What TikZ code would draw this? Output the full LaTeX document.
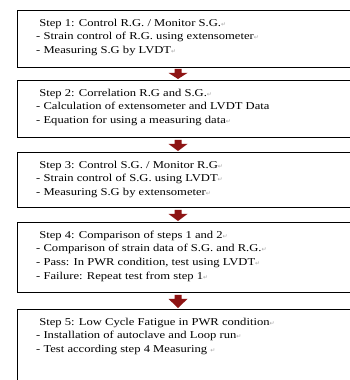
\documentclass[tikz,border=0pt]{standalone}
\usepackage{fontspec}
\setmainfont{Liberation Serif}[FakeStretch=1.2]
\newfontfamily\symfont{DejaVu Sans}
\usetikzlibrary{calc}
\definecolor{arrowred}{HTML}{8E1414}
\newcommand\pmk{{\symfont\color{black!35}\fontsize{6}{6}\selectfont ↵}}
\tikzset{
  stepbox/.style={draw=black, line width=0.9pt, minimum width=345pt, anchor=north west, inner sep=0pt},
  steptext/.style={anchor=north west, inner sep=0pt, align=left, font=\fontsize{10.5}{13.7}\selectfont},
  blockarrow/.style={fill=arrowred, draw=none},
}
\newcommand\blockarr[2]{% #1 top coordinate name, #2 bottom coordinate name
  \fill[blockarrow] ($(#1)+(-3.5,0)$) -- ($(#1)+(3.5,0)$) -- ($(#1)+(3.5,4)$) -- ($(#1)+(9.5,4)$)
    -- (#2) -- ($(#1)+(-9.5,4)$) -- ($(#1)+(-3.5,4)$) -- cycle;}
\begin{document}
\begin{tikzpicture}[x=1pt,y=-1pt]
\useasboundingbox (0,0) rectangle (349,380);
\fill[white] (0,0) rectangle (349,380);
% boxes
\node[stepbox, minimum height=57pt] (b1) at (17,10) {};
\node[stepbox, minimum height=57pt] (b2) at (17,80) {};
\node[stepbox, minimum height=55pt] (b3) at (17,152) {};
\node[stepbox, minimum height=70pt] (b4) at (17,222) {};
\node[stepbox, minimum height=110pt] (b5) at (17,309) {};
\foreach \b in {b1,b2,b3,b4,b5}{
  \draw[line width=1.8pt] ([xshift=0.5pt]\b.north west) -- ([xshift=0.5pt]\b.south west);
  \draw[line width=1.8pt] ([yshift=0.5pt]\b.south west) -- ([yshift=0.5pt]\b.south east);
}
% texts
\node[steptext] (t1) at (36,18.5) {\rule{0pt}{7.5pt}\ Step 1: Control R.G. / Monitor S.G.\pmk\\
- Strain control of R.G. using extensometer\pmk\\
- Measuring S.G by LVDT\pmk};
\node[steptext] (t2) at (36,88.5) {\rule{0pt}{7.5pt}\ Step 2: Correlation R.G and S.G.\pmk\\
- Calculation of extensometer and LVDT Data\\
- Equation for using a measuring data\pmk};
\node[steptext] (t3) at (36,160.5) {\rule{0pt}{7.5pt}\ Step 3: Control S.G. / Monitor R.G\pmk\\
- Strain control of S.G. using LVDT\pmk\\
- Measuring S.G by extensometer\pmk};
\node[steptext] (t4) at (36,230.5) {\rule{0pt}{7.5pt}\ Step 4: Comparison of steps 1 and 2\pmk\\
- Comparison of strain data of S.G. and R.G.\pmk\\
- Pass: In PWR condition, test using LVDT\pmk\\
- Failure: Repeat test from step 1\pmk};
\node[steptext] (t5) at (36,317.5) {\rule{0pt}{7.5pt}\ Step 5: Low Cycle Fatigue in PWR condition\pmk\\
- Installation of autoclave and Loop run\pmk\\
- Test according step 4 Measuring \pmk};
% arrows
\coordinate (a1s) at ($(b1.south west)+(161,1)$);
\coordinate (a1e) at ($(b2.north west)+(161,-1)$);
\coordinate (a2s) at ($(b2.south west)+(161,2)$);
\coordinate (a2e) at ($(b3.north west)+(161,-1)$);
\coordinate (a3s) at ($(b3.south west)+(161,2)$);
\coordinate (a3e) at ($(b4.north west)+(161,-1)$);
\coordinate (a4s) at ($(b4.south west)+(161,2)$);
\coordinate (a4e) at ($(b5.north west)+(161,-1)$);
\blockarr{a1s}{a1e}
\blockarr{a2s}{a2e}
\blockarr{a3s}{a3e}
\blockarr{a4s}{a4e}
\end{tikzpicture}
\end{document}
